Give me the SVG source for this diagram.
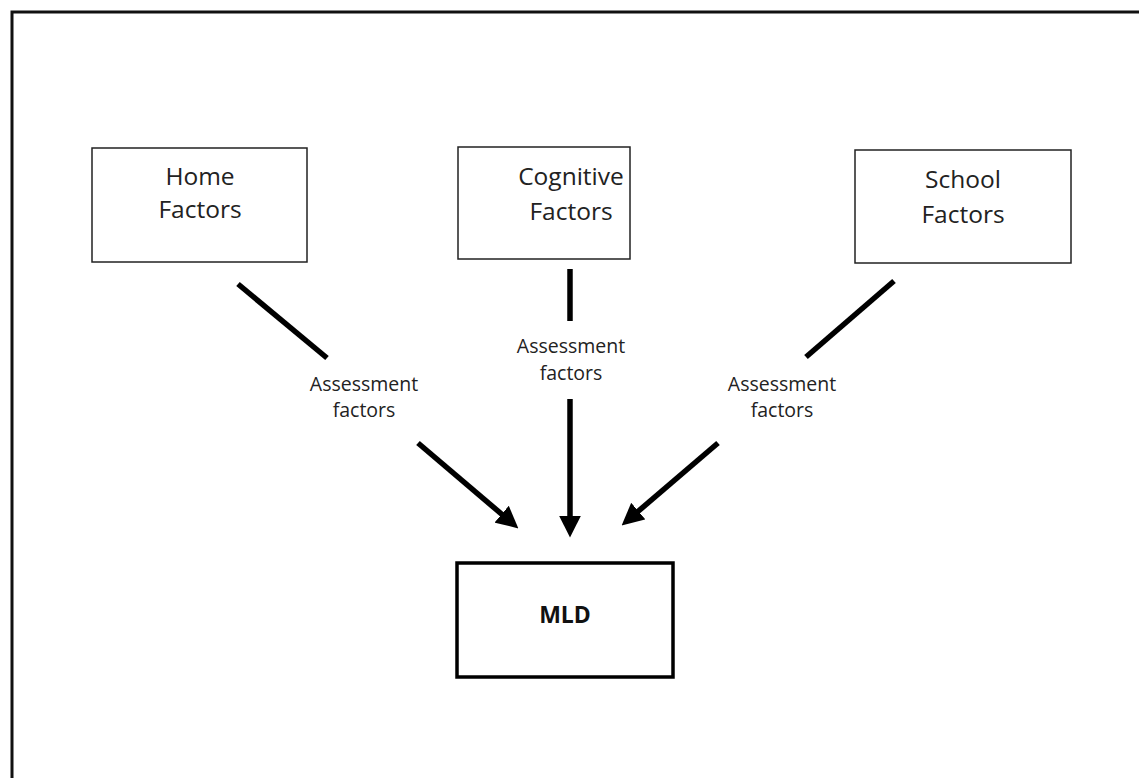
<svg xmlns="http://www.w3.org/2000/svg" width="1139" height="778" viewBox="0 0 1139 778">
  <style>
    .box { fill: #ffffff; stroke: #222222; stroke-width: 1.5; }
    .box-main { fill: #ffffff; stroke: #000000; stroke-width: 3.5; }
    .title { font-family: "Open Sans", "Liberation Sans", sans-serif; font-size: 24.5px; fill: #222222; text-anchor: middle; }
    .main-title { font-family: "Open Sans", "Liberation Sans", sans-serif; font-size: 23px; font-weight: bold; fill: #111111; text-anchor: middle; }
    .label { font-family: "Open Sans", "Liberation Sans", sans-serif; font-size: 19.5px; fill: #222222; text-anchor: middle; }
    .link { stroke: #000000; stroke-width: 5.5; fill: none; }
  </style>
  <defs>
    <marker id="arrow" viewBox="0 0 10 10" refX="2" refY="5" markerWidth="4" markerHeight="4" markerUnits="strokeWidth" orient="auto">
      <path d="M0,0 L10,5 L0,10 Z" fill="#000000"/>
    </marker>
  </defs>

  <rect width="1139" height="778" fill="#ffffff"/>
  <!-- outer frame (top and left edges) -->
  <path d="M12,778 L12,12 L1139,12" fill="none" stroke="#111111" stroke-width="3"/>

  <g id="home">
    <rect class="box" x="92" y="148" width="215" height="114"/>
    <text class="title" x="200" y="185">Home</text>
    <text class="title" x="200" y="218">Factors</text>
  </g>

  <g id="cognitive">
    <rect class="box" x="458" y="147" width="172" height="112"/>
    <text class="title" x="571" y="185">Cognitive</text>
    <text class="title" x="571" y="220">Factors</text>
  </g>

  <g id="school">
    <rect class="box" x="855" y="150" width="216" height="113"/>
    <text class="title" x="963" y="188">School</text>
    <text class="title" x="963" y="223">Factors</text>
  </g>

  <g id="mld">
    <rect class="box-main" x="457" y="563" width="216" height="114"/>
    <text class="main-title" x="565" y="623">MLD</text>
  </g>

  <g id="connectors">
    <!-- home to MLD -->
    <line class="link" x1="238" y1="284" x2="327" y2="358"/>
    <line class="link" x1="418" y1="443" x2="505" y2="517" marker-end="url(#arrow)"/>
    <text class="label" x="364" y="391">Assessment</text>
    <text class="label" x="364" y="417">factors</text>

    <!-- cognitive to MLD -->
    <line class="link" x1="570" y1="269" x2="570" y2="321"/>
    <line class="link" x1="570" y1="399" x2="570" y2="520" marker-end="url(#arrow)"/>
    <text class="label" x="571" y="353">Assessment</text>
    <text class="label" x="571" y="380">factors</text>

    <!-- school to MLD -->
    <line class="link" x1="894" y1="281" x2="806" y2="357"/>
    <line class="link" x1="718" y1="443" x2="635" y2="514" marker-end="url(#arrow)"/>
    <text class="label" x="782" y="391">Assessment</text>
    <text class="label" x="782" y="417">factors</text>
  </g>
</svg>
